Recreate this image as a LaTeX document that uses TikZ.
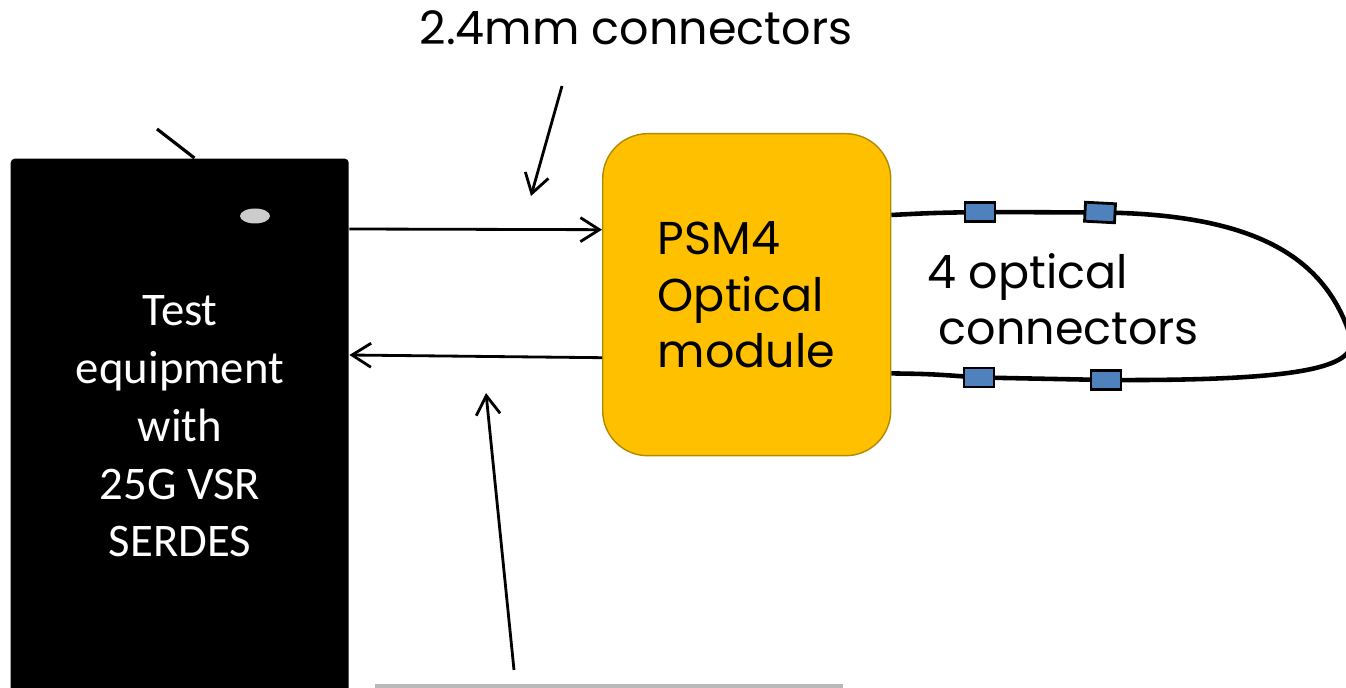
\documentclass[tikz,border=0pt]{standalone}
\usepackage{fontspec}
\usetikzlibrary{arrows.meta,calc,shapes.geometric}
\newfontfamily\calib{Carlito}
\newfontfamily\cgfont{Poppins}
\definecolor{psmyellow}{HTML}{FFC000}
\definecolor{psmedge}{HTML}{B08A00}
\definecolor{connblue}{HTML}{4F81BD}
\tikzset{
  arr/.style={draw=black, line width=0.8pt, -{Straight Barb[length=0.19cm,width=0.24cm,line width=0.8pt]}},
  fiber/.style={draw=black, line width=1.3pt},
  conn/.style={draw=black, fill=connblue, line width=0.8pt, minimum width=0.30cm, minimum height=0.19cm, inner sep=0pt},
  cgtext/.style={font=\cgfont\fontsize{13.1}{15.7}\selectfont, inner sep=0pt, text=black},
}
\begin{document}
\begin{tikzpicture}
\useasboundingbox (0,0) rectangle (13.46,-6.88);
% test equipment
\node[fill=black, rounded corners=0.04cm, minimum width=3.38cm, minimum height=5.40cm, anchor=north west, inner sep=0pt] (te) at (0.10,-1.58) {};
\node[fill=black!20, ellipse, minimum width=0.30cm, minimum height=0.15cm, inner sep=0pt] (led) at (2.55,-2.16) {};
\node[text=white, align=center, anchor=base, font=\calib\fontsize{13.3}{16.5}\selectfont, inner sep=0pt] (tetext) at (1.80,-5.57) {Test\\equipment\\with\\25G VSR\\SERDES};
% PSM4 module
\node[fill=psmyellow, draw=psmedge, line width=0.4pt, rounded corners=0.45cm, minimum width=2.88cm, minimum height=3.22cm, anchor=north west, inner sep=0pt] (psm) at (6.02,-1.33) {};
\node[cgtext, align=left, anchor=base west, font=\cgfont\fontsize{13.1}{16.1}\selectfont] (psmtext) at (6.57,-3.68) {PSM4\\Optical\\module};
% title
\node[cgtext, anchor=base] (title) at (6.36,-0.45) {2.4mm connectors};
\node[cgtext, align=left, anchor=base west, font=\cgfont\fontsize{13.1}{16.2}\selectfont] (opt) at (9.27,-3.45) {4 optical\\\hspace*{0.11cm}connectors};
% electrical arrows
\draw[arr] ([yshift=-0.71cm]te.north east) -- ([yshift=0.65cm]psm.west);
\draw[arr] ([yshift=-0.63cm]psm.west) -- ([yshift=-1.97cm]te.north east);
% label arrows
\coordinate (l1) at (5.62,-0.86);
\coordinate (l1e) at (5.31,-1.96);
\draw[arr] (l1) -- (l1e);
\coordinate (l2) at (5.14,-6.70);
\coordinate (l2e) at (4.86,-3.93);
\draw[arr] (l2) -- (l2e);
% antenna line
\coordinate (ant) at (1.57,-1.29);
\draw[line width=0.9pt] (ant) -- ([xshift=-1.55cm]te.north east);
% gray bottom line
\coordinate (g1) at (3.75,-6.865);
\coordinate (g2) at (8.43,-6.865);
\draw[draw=black!28, line width=1.6pt] (g1) -- (g2);
% fiber loop
\coordinate (ft) at ([yshift=-0.82cm]psm.north east);
\coordinate (fb) at ([yshift=0.83cm]psm.south east);
\coordinate (t1) at (9.80,-2.12);
\coordinate (t2) at (11.00,-2.125);
\coordinate (b1) at (9.79,-3.775);
\coordinate (b2) at (11.06,-3.80);
\draw[fiber] (ft) .. controls (9.3,-2.13) .. (t1) -- (t2)
  .. controls (12.6,-2.14) and (13.25,-2.6) .. (13.50,-3.35)
  .. controls (13.62,-3.68) and (13.0,-3.81) .. (b2) -- (b1) .. controls (9.3,-3.74) .. (fb);
\node[conn] (c1) at (t1) {};
\node[conn, rotate=-3] (c2) at (t2) {};
\node[conn] (c3) at (b1) {};
\node[conn] (c4) at (b2) {};
\end{tikzpicture}
\end{document}
